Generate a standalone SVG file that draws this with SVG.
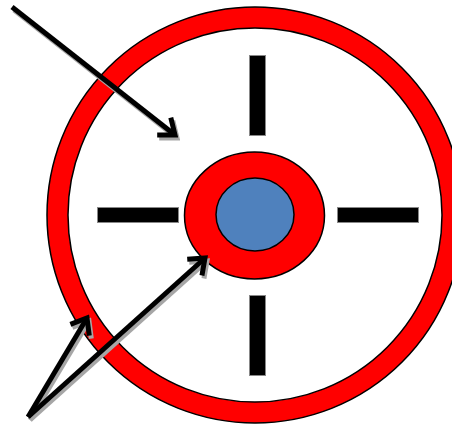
<svg xmlns="http://www.w3.org/2000/svg" width="452" height="425" viewBox="0 0 452 425">
<defs>
<style>
.ring{fill:#ff0000;stroke:#000;stroke-width:1.5}
.inner{fill:#fff;stroke:#000;stroke-width:1.5}
.bar{fill:#000;stroke:#888;stroke-width:1}
.arr{fill:none;stroke:#000;stroke-width:5;stroke-linecap:butt}
.sh{fill:none;stroke:#a6a6a6;stroke-width:5;stroke-linecap:butt}
</style>
<marker id="ah" markerUnits="userSpaceOnUse" viewBox="-22 -16 26 32" refX="0" refY="0" markerWidth="26" markerHeight="32" orient="auto">
<path d="M-14,-11 L0,0 L-14,11" fill="none" stroke="#000" stroke-width="5"/>
</marker>
<marker id="ahs" markerUnits="userSpaceOnUse" viewBox="-22 -16 26 32" refX="0" refY="0" markerWidth="26" markerHeight="32" orient="auto">
<path d="M-14,-11 L0,0 L-14,11" fill="none" stroke="#a6a6a6" stroke-width="5"/>
</marker>
</defs>
<rect width="452" height="425" fill="#fff"/>
<g id="outer-ring">
<ellipse class="ring" cx="255" cy="215" rx="208" ry="208"/>
<ellipse class="inner" cx="255" cy="215" rx="187" ry="187"/>
</g>
<g id="bars">
<rect class="bar" x="249.5" y="55.5" width="16" height="80"/>
<rect class="bar" x="249.5" y="295.5" width="16" height="80"/>
<rect class="bar" x="97.5" y="207.5" width="81" height="15"/>
<rect class="bar" x="337.5" y="207.5" width="81" height="15"/>
</g>
<g id="center">
<ellipse class="ring" cx="254.5" cy="215.5" rx="70" ry="63.5"/>
<ellipse cx="255" cy="214.5" rx="39" ry="36.5" fill="#4f81bd" stroke="#000" stroke-width="1.5"/>
</g>
<g id="connectors">
<line class="sh" x1="14" y1="10" x2="177" y2="138" marker-end="url(#ahs)"/>
<line class="sh" x1="30" y1="420" x2="207" y2="261" marker-end="url(#ahs)"/>
<line class="sh" x1="30" y1="420" x2="89" y2="321" marker-end="url(#ahs)"/>
<line class="arr" x1="12" y1="7" x2="175" y2="135" marker-end="url(#ah)"/>
<line class="arr" x1="28" y1="417" x2="205" y2="258" marker-end="url(#ah)"/>
<line class="arr" x1="28" y1="417" x2="87" y2="318" marker-end="url(#ah)"/>
</g>
</svg>
